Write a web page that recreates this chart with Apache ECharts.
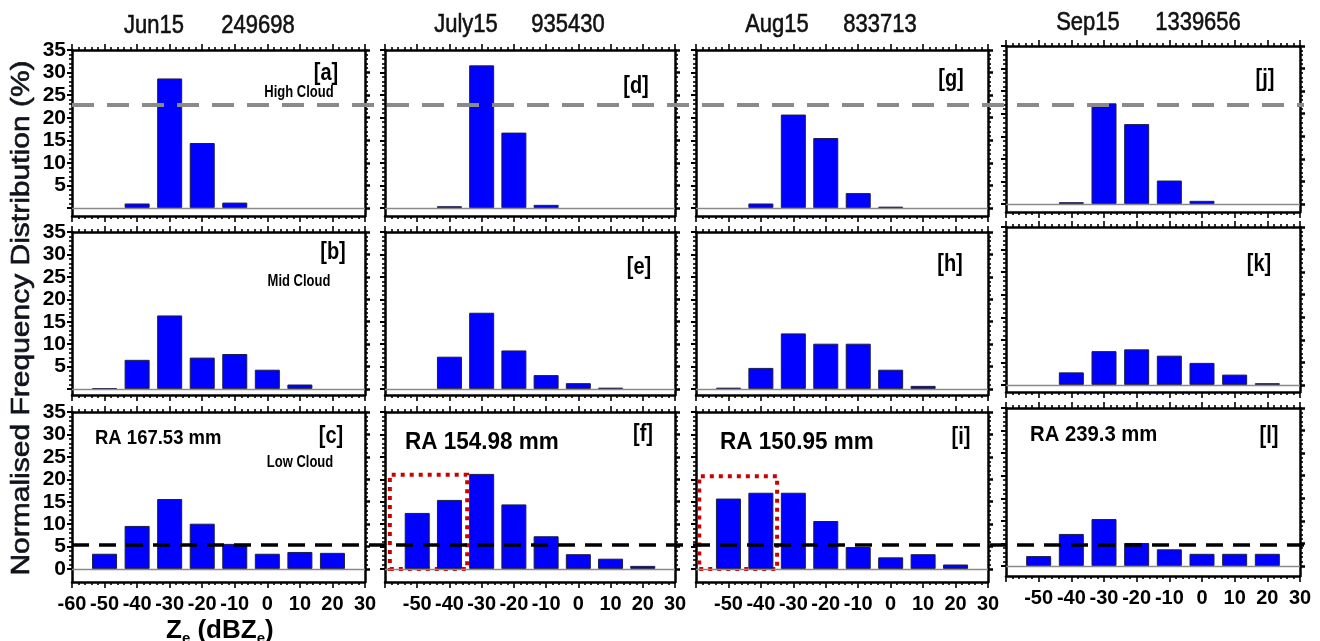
<!DOCTYPE html>
<html><head><meta charset="utf-8">
<script src="https://cdn.jsdelivr.net/npm/echarts@6/dist/echarts.min.js"></script>
<style>html,body{margin:0;padding:0;background:#fff}#c{width:1320px;height:641px}</style>
</head><body><div id="c"></div>
<script>
// ---------------- data ----------------
const bins = [-50, -40, -30, -20, -10, 0, 10, 20];
const xTickLabels = [-60, -50, -40, -30, -20, -10, 0, 10, 20, 30];
const yTickLabels = [0, 5, 10, 15, 20, 25, 30, 35];
const months = ['Jun15', 'July15', 'Aug15', 'Sep15'];
const sampleCounts = ['249698', '935430', '833713', '1339656'];
const rainAmount = ['RA 167.53 mm', 'RA 154.98 mm', 'RA 150.95 mm', 'RA 239.3 mm'];
const cloudLevels = ['High Cloud', 'Mid Cloud', 'Low Cloud'];
const panelTags = [['[a]', '[b]', '[c]'], ['[d]', '[e]', '[f]'], ['[g]', '[h]', '[i]'], ['[j]', '[k]', '[l]']];

const junHigh = [null, 1.0, 28.7, 14.4, 1.2, null, null, null];
const julHigh = [null, 0.4, 31.6, 16.7, 0.7, null, null, null];
const augHigh = [null, 1.0, 20.7, 15.5, 3.3, 0.3, null, null];
const sepHigh = [null, 0.4, 22.3, 17.7, 5.2, 0.7, null, null];

const junMid = [0.2, 6.5, 16.4, 7.0, 7.8, 4.3, 1.0, null];
const julMid = [null, 7.2, 17.0, 8.6, 3.1, 1.3, 0.3, null];
const augMid = [0.3, 4.7, 12.4, 10.1, 10.1, 4.3, 0.7, null];
const sepMid = [null, 2.8, 7.5, 7.9, 6.5, 4.9, 2.3, 0.4];

const junLow = [3.4, 9.6, 15.6, 10.1, 5.6, 3.4, 3.8, 3.6];
const julLow = [12.5, 15.4, 21.2, 14.4, 7.3, 3.3, 2.3, 0.7];
const augLow = [15.7, 17.0, 17.0, 10.7, 4.9, 2.6, 3.3, 1.0];
const sepLow = [2.2, 7.1, 10.4, 5.1, 3.7, 2.7, 2.7, 2.7];

const highCloudRef = 22.8;
const lowCloudRef = 5.3;
const julBox = [-58.5, 0, -34.5, 21];
const augBox = [-59, 0, -35, 20.7];

// ---------------- layout ----------------
const panels = [[junHigh, junMid, junLow], [julHigh, julMid, julLow], [augHigh, augMid, augLow], [sepHigh, sepMid, sepLow]];
const boxes = { 1: julBox, 2: augBox };
const colLeft = [72, 385, 696, 1006];
const colWidth = [293, 290, 292, 294];
// [top, zeroY, bottom] per column, per row
const rowGeom = [
  [[50, 208, 216], [232, 389, 395], [412, 569, 582]],
  [[50, 208, 216], [232, 389, 395], [412, 569, 582]],
  [[50, 208, 216], [232, 389, 395], [412, 569, 582]],
  [[46, 204, 212], [227, 385, 392], [408, 566, 576]]
];
const FONT = '"Liberation Sans", Arial, Helvetica, sans-serif';
const minorY = [];
for (let v = 1; v < 35; v++) if (v % 5) minorY.push(v);

const grids = [], xAxes = [], yAxes = [], series = [];
const lineBlk = { color: '#000', width: 2.5 };
const tickBlk = { color: '#000', width: 1.6 };

function yRange(g) {
  const [top, zero, bottom] = g;
  const s = (zero - top) / 35;
  return -(bottom - zero) / s;
}

for (let c = 0; c < 4; c++) {
  for (let r = 0; r < 3; r++) {
    const g = grids.length;
    const geom = rowGeom[c][r];
    const ymin = yRange(geom);
    grids.push({ left: colLeft[c], width: colWidth[c], top: geom[0], height: geom[2] - geom[0] });
    const xb = xAxes.length;
    xAxes.push({
      gridIndex: g, type: 'value', position: 'bottom', min: -60, max: 30, interval: 10,
      axisLine: { onZero: false, lineStyle: lineBlk },
      axisTick: { show: true, inside: false, length: 6, lineStyle: tickBlk },
      minorTick: { show: true, splitNumber: 5, length: 3, lineStyle: tickBlk },
      splitLine: { show: false }, minorSplitLine: { show: false },
      axisLabel: {
        show: r === 2, margin: 12, fontSize: 20, fontWeight: 'bold', color: '#000', fontFamily: FONT,
        formatter: v => (c > 0 && v === -60) ? '' : String(v)
      }
    });
    xAxes.push({
      gridIndex: g, type: 'value', position: 'top', min: -60, max: 30, interval: 10,
      axisLine: { onZero: false, lineStyle: lineBlk },
      axisTick: { show: true, inside: false, length: 6, lineStyle: tickBlk },
      minorTick: { show: true, splitNumber: 5, length: 3, lineStyle: tickBlk },
      splitLine: { show: false }, minorSplitLine: { show: false },
      axisLabel: { show: false }
    });
    const yl = yAxes.length;
    const labelVals = r === 2 ? yTickLabels : yTickLabels.slice(1);
    yAxes.push({
      gridIndex: g, type: 'value', position: 'left', min: ymin, max: 35,
      axisLine: { onZero: false, lineStyle: lineBlk },
      axisTick: { show: true, customValues: yTickLabels, length: 5, lineStyle: { color: '#000', width: 2 } },
      axisLabel: { show: c === 0, customValues: labelVals, margin: 6, fontSize: 21, fontWeight: 'bold', color: '#000', fontFamily: FONT },
      splitLine: { show: false }
    });
    yAxes.push({
      gridIndex: g, type: 'value', position: 'left', min: ymin, max: 35,
      axisLine: { show: false, onZero: false },
      axisTick: { show: true, customValues: minorY, length: 3, lineStyle: tickBlk },
      axisLabel: { show: false }, splitLine: { show: false }
    });
    yAxes.push({
      gridIndex: g, type: 'value', position: 'right', min: ymin, max: 35,
      axisLine: { onZero: false, lineStyle: lineBlk },
      axisTick: { show: true, customValues: yTickLabels, length: 5, lineStyle: { color: '#000', width: 2.5 } },
      axisLabel: { show: false }, splitLine: { show: false }
    });
    yAxes.push({
      gridIndex: g, type: 'value', position: 'right', min: ymin, max: 35,
      axisLine: { show: false, onZero: false },
      axisTick: { show: true, customValues: minorY, length: 3, lineStyle: tickBlk },
      axisLabel: { show: false }, splitLine: { show: false }
    });
    const vals = panels[c][r];
    series.push({
      type: 'bar', xAxisIndex: xb, yAxisIndex: yl, barWidth: 25, z: 2,
      data: bins.map((b, i) => [b, vals[i]]).filter(d => d[1] != null),
      itemStyle: { color: '#0000ff', borderColor: '#1d1d4a', borderWidth: 1 },
      markLine: {
        silent: true, symbol: ['none', 'none'], label: { show: false },
        lineStyle: { type: 'solid', color: '#8a8a8a', width: 1.3 },
        data: [{ yAxis: 0 }]
      }
    });
    if (r === 2 && boxes[c]) {
      const b = boxes[c];
      series.push({
        type: 'line', xAxisIndex: xb, yAxisIndex: yl, data: [], z: 6,
        markArea: {
          silent: true,
          itemStyle: { color: 'rgba(0,0,0,0)', borderColor: '#cc0000', borderWidth: 4, borderType: [4, 5] },
          data: [[{ coord: [b[0], b[1]] }, { coord: [b[2], b[3]] }]]
        }
      });
    }
  }
}

// overlay grids for the figure-wide reference lines
function overlay(geom, value, color, width, dash) {
  const g = grids.length;
  grids.push({ left: 72, width: 1232, top: geom[0], height: geom[2] - geom[0] });
  const xi = xAxes.length, yi = yAxes.length;
  xAxes.push({ gridIndex: g, type: 'value', show: false, min: 0, max: 1 });
  yAxes.push({ gridIndex: g, type: 'value', show: false, min: yRange(geom), max: 35 });
  series.push({
    type: 'line', xAxisIndex: xi, yAxisIndex: yi, data: [], z: 8,
    markLine: {
      silent: true, symbol: ['none', 'none'], label: { show: false },
      lineStyle: { type: dash, color, width },
      data: [{ yAxis: value }]
    }
  });
}
overlay(rowGeom[0][0], highCloudRef, '#8a8a8a', 4, [22, 13]);
overlay(rowGeom[0][2], lowCloudRef, '#000', 3.5, [17, 10]);

// ---------------- texts ----------------
const graphics = [];
function txt(text, x, y, opts) {
  graphics.push(Object.assign({
    type: 'text', x, y, z: 100, silent: true,
    style: Object.assign({
      text, fill: '#000', fontFamily: FONT, fontSize: 20, fontWeight: 'normal',
      align: 'center', verticalAlign: 'middle'
    }, opts.style || {})
  }, opts.el || {}));
}
const titleX = [[154, 258], [466, 568], [777, 880], [1088, 1198]];
const titleY = [26, 25, 25, 23];
for (let c = 0; c < 4; c++) {
  txt(months[c], titleX[c][0], titleY[c], { style: { fontSize: 22, fill: '#111', stroke: '#111', lineWidth: 0.5 }, el: { scaleY: 1.2 } });
  txt(sampleCounts[c], titleX[c][1], titleY[c], { style: { fontSize: 22, fill: '#111', stroke: '#111', lineWidth: 0.5 }, el: { scaleY: 1.2 } });
}
const tagPos = [
  [[326, 74], [333, 253], [331, 437]],
  [[636, 87], [639, 268], [643, 435]],
  [[951, 80], [950, 265], [961, 438]],
  [[1265, 80], [1259, 265], [1269, 437]]
];
for (let c = 0; c < 4; c++) for (let r = 0; r < 3; r++) {
  txt(panelTags[c][r], tagPos[c][r][0], tagPos[c][r][1], { style: { fontSize: 20, fontWeight: 'bold' }, el: { scaleY: 1.15 } });
}
const cloudPos = [[299, 93], [299, 282], [300, 463]];
for (let r = 0; r < 3; r++) {
  txt(cloudLevels[r], cloudPos[r][0], cloudPos[r][1], { style: { fontSize: 13, fontWeight: 'bold' }, el: { scaleY: 1.25 } });
}
const raPos = [[95, 438, 18.5], [405, 442, 22.5], [720, 442, 22.5], [1030, 435, 20.3]];
for (let c = 0; c < 4; c++) {
  txt(rainAmount[c], raPos[c][0], raPos[c][1], { style: { fontSize: raPos[c][2], fontWeight: 'bold', align: 'left' }, el: { scaleY: 1.1 } });
}
// y-axis title
txt('Normalised Frequency Distribution (%)', 22, 318, { style: { fontSize: 25, fill: '#10131c', stroke: '#10131c', lineWidth: 0.6 }, el: { rotation: Math.PI / 2, scaleX: 1.2 } });
// x-axis title with subscripts
graphics.push({
  type: 'text', x: 166, y: 630, z: 100, silent: true,
  style: {
    text: '{m|Z}{s|e}{m| (dBZ}{s|e}{m|)}',
    fill: '#000', align: 'left', verticalAlign: 'middle',
    rich: {
      m: { fontFamily: FONT, fontSize: 26, fontWeight: 'bold', lineHeight: 27, verticalAlign: 'bottom', fill: '#000' },
      s: { fontFamily: FONT, fontSize: 15, fontWeight: 'bold', lineHeight: 15, verticalAlign: 'bottom', fill: '#000', padding: [0, 0, -3, 0] }
    }
  }
});

const chart = echarts.init(document.getElementById('c'), null, { renderer: 'canvas' });
chart.setOption({
  animation: false,
  backgroundColor: '#fff',
  grid: grids, xAxis: xAxes, yAxis: yAxes, series,
  graphic: { elements: graphics }
});
</script></body></html>
